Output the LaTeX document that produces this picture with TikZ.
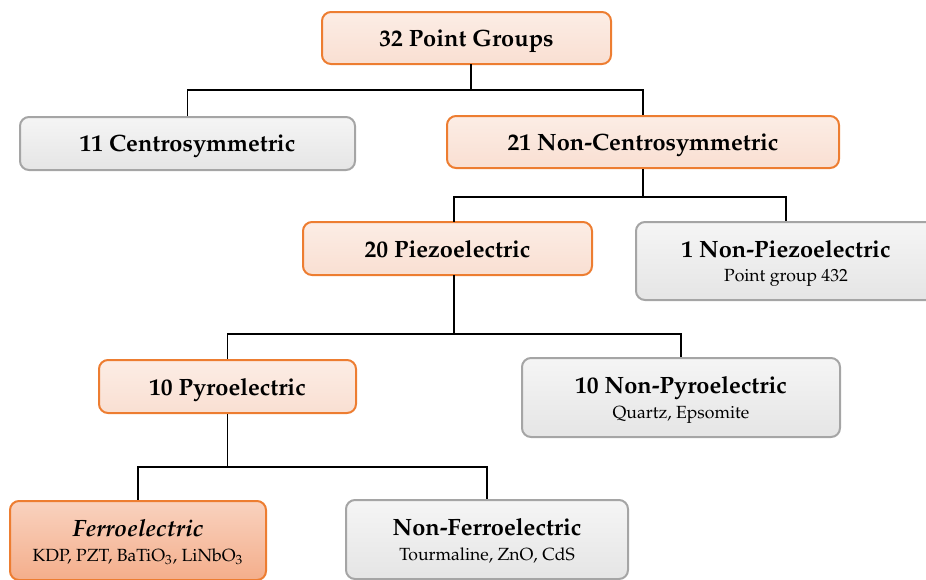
\documentclass[tikz,border=0pt]{standalone}
\usepackage[T1]{fontenc}
\usepackage{mathpazo}
\definecolor{orangeline}{HTML}{ED7D31}
\definecolor{peachtop}{HTML}{FCEDE5}
\definecolor{peachbot}{HTML}{F9DFD2}
\definecolor{ferrotop}{HTML}{F9D2BF}
\definecolor{ferrobot}{HTML}{F4AE8B}
\definecolor{grayline}{HTML}{A5A5A5}
\definecolor{graytop}{HTML}{F5F5F5}
\definecolor{graybot}{HTML}{E5E5E5}
\tikzset{
  groupbox/.style={rounded corners=4.5pt, line width=1pt, inner sep=0pt, align=center,
    text depth=0pt, font=\fontsize{11.8}{12.2}\selectfont\bfseries},
  twoline/.style={text depth=-2pt},
  orangebox/.style={groupbox, draw=orangeline, top color=peachtop, bottom color=peachbot},
  ferrobox/.style={groupbox, draw=orangeline, top color=ferrotop, bottom color=ferrobot},
  graybox/.style={groupbox, draw=grayline, top color=graytop, bottom color=graybot},
  link/.style={line width=0.6pt, black},
}
\newcommand{\examples}[1]{\\{\fontsize{8.8}{12.2}\selectfont\mdseries\upshape #1}}

\begin{document}
\begin{tikzpicture}[x=0.5pt, y=-0.5pt]
  \useasboundingbox (0,0) rectangle (926,579);

  % Boxes
  \node[orangebox, minimum width=144.5pt, minimum height=26pt] (pg) at (466.5,38) {32 Point Groups};
  \node[graybox, minimum width=167.5pt, minimum height=26.5pt] (cen) at (187.5,143.5) {11 Centrosymmetric};
  \node[orangebox, minimum width=196pt, minimum height=26pt] (ncs) at (643,142) {21 Non-Centrosymmetric};
  \node[orangebox, minimum width=144.5pt, minimum height=26.5pt] (pz) at (447.5,248.5) {20 Piezoelectric};
  \node[graybox, twoline, minimum width=150pt, minimum height=39pt] (npz) at (786,261) {1 Non-Piezoelectric\examples{Point group 432}};
  \node[orangebox, minimum width=128.5pt, minimum height=26.5pt] (pyro) at (227.5,386.5) {10 Pyroelectric};
  \node[graybox, twoline, minimum width=159pt, minimum height=39.5pt] (npyro) at (681,397.5) {10 Non-Pyroelectric\examples{Quartz, Epsomite}};
  \node[ferrobox, twoline, minimum width=128pt, minimum height=39.5pt] (ferro) at (138,540.5) {\itshape Ferroelectric\examples{KDP, PZT, BaTiO$_3$, LiNbO$_3$}};
  \node[graybox, twoline, minimum width=141pt, minimum height=39.5pt] (nferro) at (487,539.5) {Non-Ferroelectric\examples{Tourmaline, ZnO, CdS}};

  % Forks
  \coordinate (pgout) at (471,64);
  \coordinate (pzin) at (454,222);
  \coordinate (pzout) at (454,275);

  \draw[link] (pgout) -- ++(0,26) -| (cen.north);
  \draw[link] (pgout) -- ++(0,26) -| (ncs.north);
  \draw[link] (ncs.south) -- ++(0,28) -| (pzin);
  \draw[link] (ncs.south) -- ++(0,28) -| (npz.north);
  \draw[link] (pzout) -- ++(0,59) -| (pyro.north);
  \draw[link] (pzout) -- ++(0,59) -| (npyro.north);
  \draw[link] (pyro.south) -- ++(0,53) -| (ferro.north);
  \draw[link] (pyro.south) -- ++(0,53) -| (nferro.north);
\end{tikzpicture}
\end{document}
